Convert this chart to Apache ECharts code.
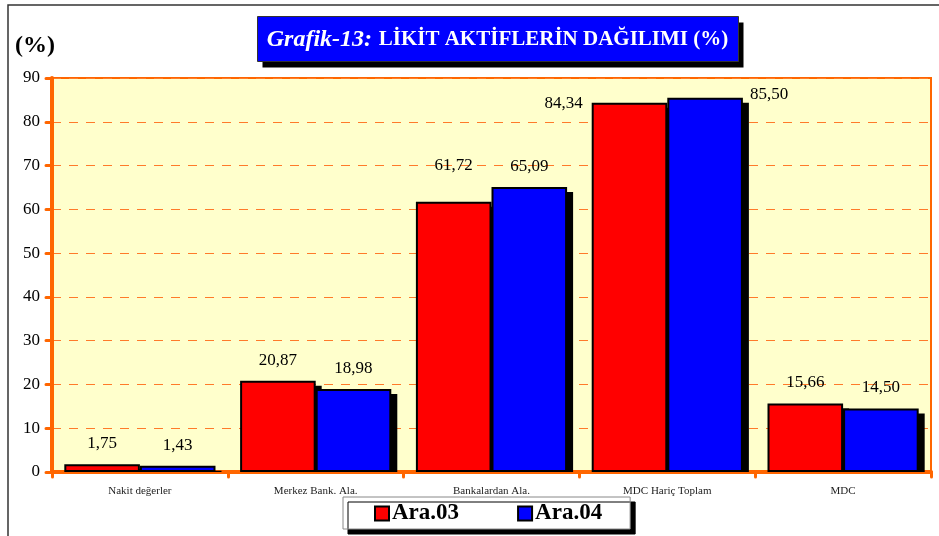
<!DOCTYPE html>
<html>
<head>
<meta charset="utf-8">
<script src="https://cdn.jsdelivr.net/npm/echarts@6/dist/echarts.min.js"></script>
<style>
  html, body { margin: 0; padding: 0; background: #fff; }
  #chart { width: 939px; height: 536px; }
</style>
</head>
<body>
<div id="chart"></div>
<script>
// chart data
var categories = ["Nakit değerler", "Merkez Bank. Ala.", "Bankalardan Ala.", "MDC Hariç Toplam", "MDC"];
var seriesNames = ["Ara.03", "Ara.04"];
var ara03 = [1.75, 20.87, 61.72, 84.34, 15.66];
var ara04 = [1.43, 18.98, 65.09, 85.50, 14.50];
var yTicks = [0, 10, 20, 30, 40, 50, 60, 70, 80, 90];

var serif = '"Liberation Serif", "DejaVu Serif", serif';
var orange = "#FF6600";
var catGap = 0.14;

// label nudges for the tall bars (Excel put them beside the bar)
var labelOffsets03 = [[0, 0], [0, 0], [0, -16], [-66, 21], [0, 0]];
var labelOffsets04 = [[0, 0], [0, 0], [0, 0], [64, 17], [0, 0]];

function fmt(v) {
  return v.toFixed(2).replace(".", ",");
}

function buildData(values, offsets) {
  return values.map(function (v, i) {
    return { value: v, label: { offset: offsets[i] } };
  });
}

function barSeries(name, values, offsets, color) {
  return {
    name: name,
    type: "bar",
    z: 3,
    barGap: "0%",
    barCategoryGap: (catGap * 100) + "%",
    data: buildData(values, offsets),
    itemStyle: {
      color: color,
      borderColor: "#000",
      borderWidth: 2
    },
    label: {
      show: true,
      position: "top",
      distance: 12,
      fontFamily: serif,
      fontSize: 17,
      color: "#000",
      formatter: function (p) { return fmt(p.value); }
    }
  };
}

// black drop shadows behind the bars
function renderShadow(params, api) {
  var i = api.value(0);
  var band = api.size([1, 0])[0];
  var w = band * (1 - catGap) / 2;
  var base = api.coord([i, 0]);
  var cx = base[0], y0 = base[1];
  var t1 = api.coord([i, api.value(1)])[1];
  var t2 = api.coord([i, api.value(2)])[1];
  var dx = 6, dy = 5;
  return {
    type: "group",
    children: [
      { type: "rect", shape: { x: cx - w + dx, y: t1 + dy, width: w, height: Math.max(0, y0 - t1 - dy) }, style: { fill: "#000" } },
      { type: "rect", shape: { x: cx + dx, y: t2 + dy, width: w, height: Math.max(0, y0 - t2 - dy) }, style: { fill: "#000" } }
    ]
  };
}

var chart = echarts.init(document.getElementById("chart"));

var option = {
  backgroundColor: "#fff",
  animation: false,
  grid: {
    left: 52,
    right: 8,
    top: 78,
    bottom: 64,
    show: true,
    backgroundColor: "#FFFFCC",
    borderColor: orange,
    borderWidth: 2
  },
  legend: {
    data: seriesNames,
    left: 343,
    top: 497,
    padding: [5, 28, 4, 31],
    itemGap: 58,
    itemWidth: 14,
    itemHeight: 14,
    icon: "rect",
    backgroundColor: "#fff",
    borderColor: "#888",
    borderWidth: 1,
    shadowColor: "#000",
    shadowBlur: 0,
    shadowOffsetX: 5,
    shadowOffsetY: 5,
    itemStyle: { borderColor: "#000", borderWidth: 2 },
    textStyle: { fontFamily: serif, fontSize: 23, fontWeight: "bold", color: "#000", padding: [0, 0, 0, -2] }
  },
  xAxis: {
    type: "category",
    data: categories,
    axisLine: { lineStyle: { color: orange, width: 4 } },
    axisTick: { show: true, length: 5, lineStyle: { color: orange, width: 3, cap: "round" } },
    axisLabel: { fontFamily: serif, fontSize: 11, color: "#222", margin: 14 }
  },
  yAxis: {
    type: "value",
    min: 0,
    max: 90,
    interval: 10,
    axisLine: { show: true, lineStyle: { color: orange, width: 4 } },
    axisTick: { show: true, length: 6, lineStyle: { color: orange, width: 3, cap: "round" } },
    axisLabel: { fontFamily: serif, fontSize: 17, color: "#000", margin: 12,
      customValues: yTicks },
    splitLine: { lineStyle: { color: "#FF7A2A", width: 1, type: [9, 8] } }
  },
  series: [
    {
      type: "custom",
      name: "shadow",
      z: 1,
      silent: true,
      renderItem: renderShadow,
      encode: { x: 0, y: [1, 2] },
      data: categories.map(function (c, i) { return [i, ara03[i], ara04[i]]; })
    },
    barSeries(seriesNames[0], ara03, labelOffsets03, "#FF0000"),
    barSeries(seriesNames[1], ara04, labelOffsets04, "#0000FF")
  ],
  graphic: [
    {
      type: "rect",
      shape: { x: 8, y: 5, width: 1000, height: 1000 },
      style: { fill: "none", stroke: "#333", lineWidth: 1.5 },
      silent: true
    },
    {
      type: "text",
      left: 15,
      top: 34,
      style: { text: "(%)", font: "bold 24px " + serif, fill: "#000" }
    },
    {
      type: "group",
      left: 257,
      top: 16,
      children: [
        {
          type: "rect",
          shape: { x: 5, y: 6, width: 481, height: 45 },
          style: { fill: "#000" }
        },
        {
          type: "rect",
          shape: { x: 0, y: 0, width: 481, height: 45 },
          style: { fill: "#0000FF", stroke: "#333", lineWidth: 1 }
        },
        {
          type: "text",
          x: 240,
          y: 23,
          style: {
            text: "{a|Grafik-13:}  {b|LİKİT AKTİFLERİN DAĞILIMI (%)}",
            align: "center",
            verticalAlign: "middle",
            rich: {
              a: { font: "italic bold 24px " + serif, fill: "#fff" },
              b: { font: "bold 21px " + serif, fill: "#fff" }
            }
          }
        }
      ]
    }
  ]
};

chart.setOption(option);
</script>
</body>
</html>
